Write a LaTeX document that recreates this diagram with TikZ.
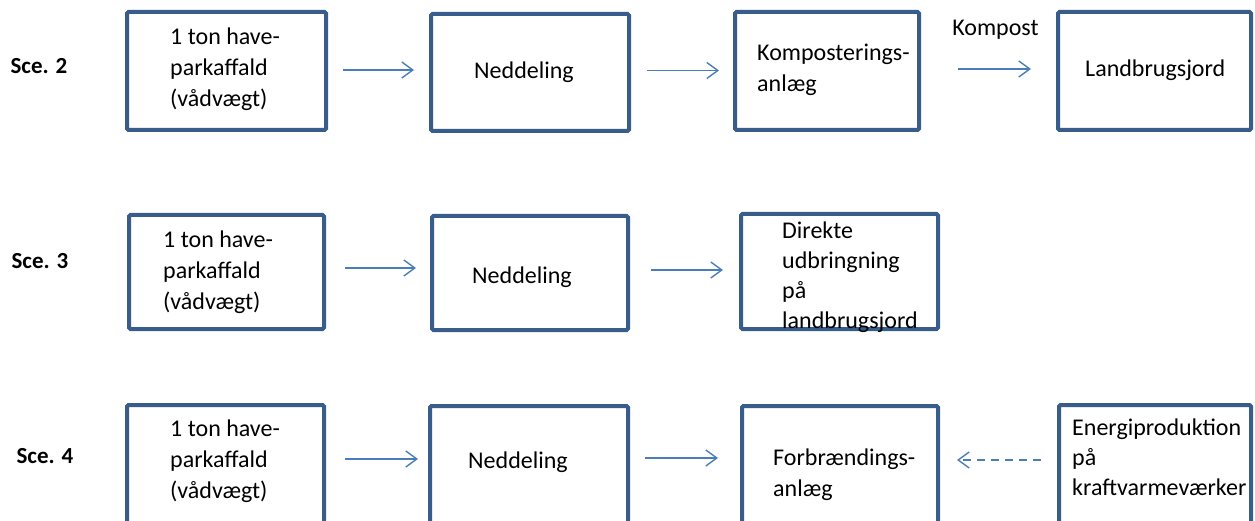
\documentclass[tikz,border=0pt]{standalone}
\usepackage{fontspec}
\setmainfont{Carlito}
\usetikzlibrary{arrows.meta}
\definecolor{boxline}{HTML}{385D8A}
\definecolor{flow}{HTML}{4A7EBB}
\tikzset{
  box/.style={draw=boxline, line width=4pt, rounded corners=1.5pt, fill=white, inner sep=0pt},
  txt/.style={font=\fontsize{24}{31}\selectfont, align=left, inner sep=0pt, anchor=west, text=black},
  txtb/.style={txt, font=\fontsize{24}{30}\selectfont},
  scen/.style={font=\fontsize{23}{26}\selectfont\bfseries, inner sep=0pt, text=black},
  arr/.style={draw=flow, line width=1.4pt, -{Straight Barb[length=11pt,width=16pt,line width=1.4pt]}},
  arrdash/.style={arr, dash pattern=on 8pt off 6pt}
}
\begin{document}
\begin{tikzpicture}[x=1pt, y=-1pt]
\useasboundingbox (0,0) rectangle (1255,521);
\clip (0,0) rectangle (1255,521);

% Scenario 2: composting
\node[scen] (s2) at (39,66) {Sce. 2};
\node[box, minimum width=199pt, minimum height=118pt] (a1) at (226.5,71) {};
\node[box, minimum width=198pt, minimum height=117pt] (b1) at (530,72.5) {};
\node[box, minimum width=184pt, minimum height=118pt] (c1) at (827,71) {};
\node[box, minimum width=193pt, minimum height=118pt] (d1) at (1154.5,71) {};
\node[txt] (ta1) at (170,69.5) {1 ton have-\\parkaffald\\(vådvægt)};
\node[txt] (tb1) at (474,72) {Neddeling};
\node[txt] (tc1) at (757,70) {Komposterings-\\anlæg};
\node[txt] (td1) at (1085,70) {Landbrugsjord};
\draw[arr, shorten <=15pt, shorten >=15pt] ([yshift=1pt]a1.east) -- ([yshift=1pt]a1.east -| b1.west);
\draw[arr, shorten <=16pt, shorten >=14pt] ([yshift=2pt]b1.east) -- ([yshift=2pt]b1.east -| c1.west);
\draw[arr, shorten <=37pt, shorten >=25pt] ([yshift=2pt]c1.east) -- ([yshift=2pt]c1.east -| d1.west)
  node[midway, xshift=7pt, yshift=39pt, txt, anchor=center] (komp) {Kompost};

% Scenario 3: direct spreading
\node[scen] (s3) at (40,261) {Sce. 3};
\node[box, minimum width=195pt, minimum height=114pt] (a2) at (226.5,272) {};
\node[box, minimum width=196pt, minimum height=114pt] (b2) at (530,273) {};
\node[box, minimum width=197pt, minimum height=115pt] (c2) at (839.5,271.5) {};
\node[txt] (ta2) at (163,272.5) {1 ton have-\\parkaffald\\(vådvægt)};
\node[txt] (tb2) at (472,277) {Neddeling};
\node[txtb] (tc2) at (782,277.5) {Direkte\\udbringning\\på\\landbrugsjord};
\draw[arr, shorten <=19pt, shorten >=14pt] ([yshift=4pt]a2.east) -- ([yshift=4pt]a2.east -| b2.west);
\draw[arr, shorten <=21pt, shorten >=16pt] ([yshift=3pt]b2.east) -- ([yshift=3pt]b2.east -| c2.west);

% Scenario 4: incineration
\node[scen] (s4) at (45,456) {Sce. 4};
\node[box, minimum width=197pt, minimum height=140pt] (a3) at (225.5,475) {};
\node[box, minimum width=198pt, minimum height=140pt] (b3) at (529,476) {};
\node[box, minimum width=196pt, minimum height=140pt] (c3) at (840,476) {};
\node[box, minimum width=192pt, minimum height=140pt] (d3) at (1155,475) {};
\node[txt] (ta3) at (170,461.5) {1 ton have-\\parkaffald\\(vådvægt)};
\node[txt] (tb3) at (468,462) {Neddeling};
\node[txt] (tc3) at (773,474.5) {Forbrændings-\\anlæg};
\node[txtb] (td3) at (1072,457) {Energiproduktion\\på\\kraftvarmeværker};
\draw[arr, shorten <=19pt, shorten >=10pt] ([yshift=16pt]a3.east) -- ([yshift=16pt]a3.east -| b3.west);
\draw[arr, shorten <=15pt, shorten >=22pt] ([yshift=18pt]b3.east) -- ([yshift=18pt]b3.east -| c3.west);
\draw[arrdash, shorten <=16pt, shorten >=17pt] ([yshift=15pt]d3.west) -- ([yshift=15pt]d3.west -| c3.east);
\end{tikzpicture}
\end{document}
